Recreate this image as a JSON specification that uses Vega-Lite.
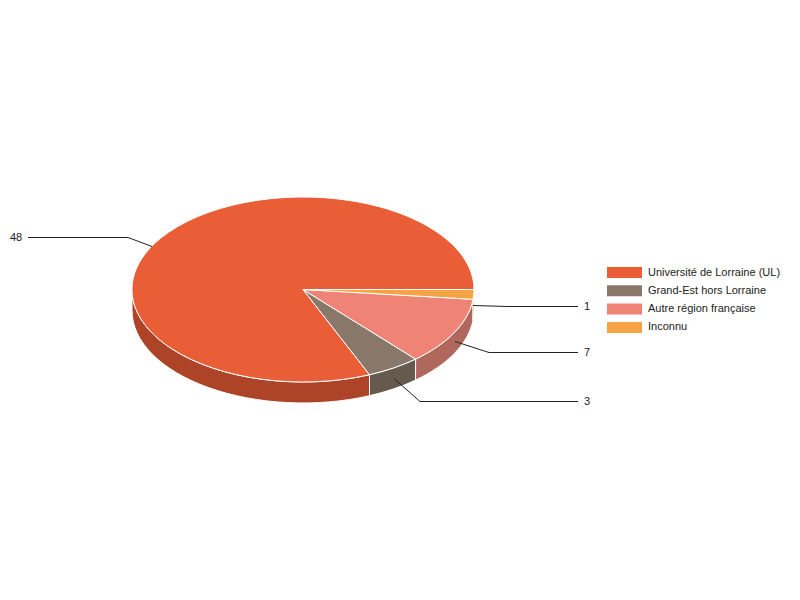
{
  "$schema": "https://vega.github.io/schema/vega-lite/v6.json",
  "width": 606,
  "height": 579,
  "autosize": "none",
  "padding": {"left": 0, "top": 0, "right": 194, "bottom": 21},
  "background": "white",
  "config": {
    "view": {"stroke": "transparent"},
    "font": "Liberation Sans"
  },
  "data": {
    "values": [
      {"origine": "Université de Lorraine (UL)", "effectif": 48},
      {"origine": "Grand-Est hors Lorraine", "effectif": 3},
      {"origine": "Autre région française", "effectif": 7},
      {"origine": "Inconnu", "effectif": 1}
    ]
  },
  "layer": [
    {
      "mark": {"type": "point", "filled": true, "size": 0, "opacity": 0, "strokeWidth": 0},
      "encoding": {
        "color": {
          "field": "origine",
          "type": "nominal",
          "title": null,
          "scale": {
            "domain": ["Université de Lorraine (UL)", "Grand-Est hors Lorraine", "Autre région française", "Inconnu"],
            "range": ["#e95d37", "#89786a", "#ee8376", "#f6a345"]
          },
          "legend": {
            "orient": "none",
            "legendX": 619,
            "legendY": 267,
            "padding": 0,
            "symbolType": "M-17.5,-5.5H17.5V5.5H-17.5Z",
            "symbolSize": 4,
            "symbolStrokeWidth": 0,
            "symbolOpacity": 1,
            "labelFont": "Liberation Sans",
            "labelFontSize": 11,
            "labelColor": "#222222",
            "labelOffset": 18,
            "rowPadding": 6.3
          }
        }
      }
    },
    {
      "mark": {"type": "point", "filled": true, "size": 4, "opacity": 1, "stroke": "white", "strokeWidth": 1},
      "encoding": {
        "color": {
          "field": "origine",
          "type": "nominal",
          "legend": null,
          "scale": {
            "domain": ["Université de Lorraine (UL)", "Grand-Est hors Lorraine", "Autre région française", "Inconnu"],
            "range": ["#ae4427", "#665a4f", "#b0675c", "#b87a33"]
          }
        },
        "shape": {
          "field": "origine",
          "type": "nominal",
          "legend": null,
          "scale": {
            "domain": ["Université de Lorraine (UL)", "Grand-Est hors Lorraine", "Autre région française", "Inconnu"],
            "range": [
              "M66.5,85.2A171,92.5 0 0 1 -171,0L-171,21A171,92.5 0 0 0 66.5,106.2Z",
              "M112.6,69.6A171,92.5 0 0 1 66.5,85.2L66.5,106.2A171,92.5 0 0 0 112.6,90.6Z",
              "M170,9.8A171,92.5 0 0 1 112.6,69.6L112.6,90.6A171,92.5 0 0 0 170,30.8Z",
              "M171,0A171,92.5 0 0 1 170,9.8L170,30.8A171,92.5 0 0 0 171,21Z"
            ]
          }
        }
      }
    },
    {
      "mark": {"type": "point", "filled": true, "size": 4, "opacity": 1, "stroke": "white", "strokeWidth": 1},
      "encoding": {
        "color": {
          "field": "origine",
          "type": "nominal",
          "legend": null,
          "scale": {
            "domain": ["Université de Lorraine (UL)", "Grand-Est hors Lorraine", "Autre région française", "Inconnu"],
            "range": ["#e95d37", "#89786a", "#ee8376", "#f6a345"]
          }
        },
        "shape": {
          "field": "origine",
          "type": "nominal",
          "legend": null,
          "scale": {
            "domain": ["Université de Lorraine (UL)", "Grand-Est hors Lorraine", "Autre région française", "Inconnu"],
            "range": [
              "M0,0L66.5,85.2A171,92.5 0 1 1 171,0Z",
              "M0,0L112.6,69.6A171,92.5 0 0 1 66.5,85.2Z",
              "M0,0L170,9.8A171,92.5 0 0 1 112.6,69.6Z",
              "M0,0L171,0A171,92.5 0 0 1 170,9.8Z"
            ]
          }
        }
      }
    },
    {
      "mark": {"type": "point", "filled": false, "size": 4, "opacity": 1, "stroke": "#222222", "strokeWidth": 1},
      "encoding": {
        "shape": {
          "field": "origine",
          "type": "nominal",
          "legend": null,
          "scale": {
            "domain": ["Université de Lorraine (UL)", "Grand-Est hors Lorraine", "Autre région française", "Inconnu"],
            "range": [
              "M-275,-52L-175,-52L-151,-43",
              "M91,89L117,112L275,112",
              "M152,52L186,63L275,63",
              "M170,16L205,17L275,17"
            ]
          }
        }
      }
    },
    {
      "transform": [{"filter": "datum.effectif == 48"}],
      "mark": {"type": "text", "fontSize": 11, "align": "left", "baseline": "middle", "color": "#222222", "dx": -293, "dy": -52},
      "encoding": {"text": {"field": "effectif", "type": "quantitative"}}
    },
    {
      "transform": [{"filter": "datum.effectif == 3"}],
      "mark": {"type": "text", "fontSize": 11, "align": "left", "baseline": "middle", "color": "#222222", "dx": 281, "dy": 112},
      "encoding": {"text": {"field": "effectif", "type": "quantitative"}}
    },
    {
      "transform": [{"filter": "datum.effectif == 7"}],
      "mark": {"type": "text", "fontSize": 11, "align": "left", "baseline": "middle", "color": "#222222", "dx": 281, "dy": 63},
      "encoding": {"text": {"field": "effectif", "type": "quantitative"}}
    },
    {
      "transform": [{"filter": "datum.effectif == 1"}],
      "mark": {"type": "text", "fontSize": 11, "align": "left", "baseline": "middle", "color": "#222222", "dx": 281, "dy": 17},
      "encoding": {"text": {"field": "effectif", "type": "quantitative"}}
    }
  ],
  "resolve": {"scale": {"color": "independent", "shape": "independent"}}
}
